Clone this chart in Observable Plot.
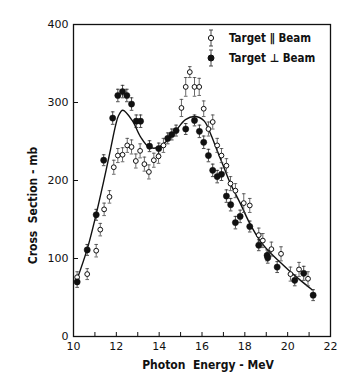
<!DOCTYPE html>
<html><head><meta charset="utf-8">
<script src="https://cdn.jsdelivr.net/npm/d3@7"></script>
<script src="https://cdn.jsdelivr.net/npm/@observablehq/plot@0.6"></script>
<style>
html,body{margin:0;padding:0;background:#fff;}
#wrap{position:relative;width:360px;height:376px;}
#legend{position:absolute;left:204px;top:28px;font-family:"DejaVu Sans Condensed","DejaVu Sans",sans-serif;font-stretch:condensed;font-weight:bold;font-size:11.5px;color:#111;}
#legend .row{display:flex;align-items:center;height:20px;}
#legend svg{display:block;}
#legend span{margin-left:11px;}
#chart svg g[aria-label="text"] text{font-stretch:condensed;}
</style></head><body>
<div id="wrap"><div id="chart"></div><div id="legend"></div></div>
<script>
// Target ∥ Beam (open circles)
const openX = [10.17, 10.64, 11.06, 11.25, 11.43, 11.68, 11.88, 12.07, 12.29, 12.51, 12.71, 12.91, 13.11, 13.31, 13.52, 13.75, 13.97, 14.2, 15.04, 15.24, 15.43, 15.65, 15.87, 16.08, 16.30, 16.50, 16.71, 16.91, 17.14, 17.33, 17.56, 17.95, 18.23, 18.65, 18.84, 19.24, 19.69, 20.13, 20.53, 20.95];
const openY = [76, 80, 110, 137, 163, 179, 217, 232, 233, 245, 243, 225, 238, 221, 211, 226, 231, 245, 293, 320, 339, 320, 320, 292, 266, 275, 245, 232, 219, 196, 187, 171, 168, 130, 123, 112, 106, 80, 86, 74];
const openE = [7, 7, 8, 8, 8, 8, 9, 9, 9, 9, 9, 9, 9, 9, 9, 9, 9, 9, 11, 12, 7, 12, 11, 10, 9, 9, 9, 9, 9, 9, 9, 12, 9, 9, 9, 9, 9, 9, 9, 9];
// Target ⊥ Beam (filled circles)
const filledX = [10.17, 10.64, 11.06, 11.41, 11.83, 12.07, 12.29, 12.49, 12.71, 12.93, 13.13, 13.55, 13.98, 14.40, 14.59, 14.79, 15.24, 15.65, 15.88, 16.08, 16.30, 16.50, 16.71, 16.91, 17.14, 17.34, 17.56, 17.78, 18.23, 18.65, 19.04, 19.07, 19.51, 20.33, 20.75, 21.19];
const filledY = [70, 111, 156, 226, 280, 309, 314, 309, 298, 276, 276, 244, 241, 254, 259, 264, 266, 277, 263, 249, 232, 213, 205, 208, 180, 169, 146, 154, 141, 117, 104, 101, 89, 72, 81, 53];
const filledE = [7, 7, 7, 7, 8, 8, 8, 8, 8, 8, 8, 7, 7, 7, 7, 7, 7, 7, 8, 8, 8, 8, 8, 8, 8, 8, 8, 8, 7, 7, 7, 7, 7, 7, 9, 7];
// fitted curve
const curveX = [10.15, 10.64, 11.06, 11.4, 11.73, 11.96, 12.1, 12.3, 12.74, 13.13, 13.52, 13.9, 14.37, 14.84, 15.23, 15.65, 16.08, 16.4, 16.71, 17.02, 17.33, 17.8, 18.23, 18.73, 19.2, 19.66, 20.13, 20.6, 21.14];
const curveY = [72, 112, 157, 198, 240, 270, 283, 290, 277, 256, 243, 242, 251, 266, 278, 282, 277, 260, 238, 217, 196, 170, 145, 122, 107, 95, 83, 72, 60];
// axes
const xTicks = [10, 11, 12, 13, 14, 15, 16, 17, 18, 19, 20, 21, 22];
const xTickLabels = ["10", "", "12", "", "14", "", "16", "", "18", "", "20", "", "22"];
const yTicks = [0, 100, 200, 300, 400];
const xTitle = "Photon  Energy - MeV";
const yTitle = "Cross  Section - mb";
const seriesNames = ["Target \u2225 Beam", "Target \u22A5 Beam"];

const open = openX.map((x, i) => ({x, y: openY[i], e: openE[i]}));
const filled = filledX.map((x, i) => ({x, y: filledY[i], e: filledE[i]}));
const curve = curveX.map((x, i) => ({x, y: curveY[i]}));

const cap = {draw(ctx, size) { const h = Math.sqrt(size / Math.PI); ctx.moveTo(-h, 0); ctx.lineTo(h, 0); }};
const titleFont = "'DejaVu Sans Condensed','DejaVu Sans',sans-serif";

function errMarks(data, col) {
  return [
    Plot.ruleX(data, {x: "x", y1: d => d.y - d.e, y2: d => d.y + d.e, stroke: col, strokeWidth: 0.8}),
    Plot.dot(data, {x: "x", y: d => d.y + d.e, symbol: cap, r: 1.8, stroke: col, strokeWidth: 0.8}),
    Plot.dot(data, {x: "x", y: d => d.y - d.e, symbol: cap, r: 1.8, stroke: col, strokeWidth: 0.8})
  ];
}

const chart = Plot.plot({
  width: 360, height: 376,
  marginLeft: 73, marginRight: 30, marginTop: 24, marginBottom: 40,
  x: {domain: [10, 22]},
  y: {domain: [0, 400]},
  style: {fontFamily: "'DejaVu Sans', sans-serif", fontSize: "11px", color: "#111", background: "#fff"},
  marks: [
    Plot.axisX({ticks: xTicks, tickSize: -4, tickPadding: 10, tickFormat: d => xTickLabels[xTicks.indexOf(d)], label: null, strokeWidth: 1}),
    Plot.axisY({ticks: yTicks, tickSize: -5, tickPadding: 10, label: null, strokeWidth: 1}),
    Plot.frame({stroke: "#111", strokeWidth: 1.3}),
    Plot.line(curve, {x: "x", y: "y", curve: "catmull-rom", stroke: "#111", strokeWidth: 1.4}),
    ...errMarks(open, "#444"),
    ...errMarks(filled, "#222"),
    Plot.dot(open, {x: "x", y: "y", r: 2.4, fill: "white", stroke: "#111", strokeWidth: 1}),
    Plot.dot(filled, {x: "x", y: "y", r: 3.1, fill: "#111", stroke: "#111", strokeWidth: 0.5}),
    Plot.text([xTitle], {frameAnchor: "bottom", dy: 32, dx: 6, text: d => d, textAnchor: "middle", fontFamily: titleFont, fontWeight: "bold", fontSize: 12, fill: "#111"}),
    Plot.text([yTitle], {frameAnchor: "left", dx: -40, dy: 25, rotate: -90, text: d => d, textAnchor: "middle", fontFamily: titleFont, fontWeight: "bold", fontSize: 12, fill: "#111"})
  ]
});
document.getElementById("chart").appendChild(chart);

// legend
const leg = document.getElementById("legend");
seriesNames.forEach((name, i) => {
  const row = document.createElement("div");
  row.className = "row";
  const fill = i === 0 ? "white" : "#111";
  const r = i === 0 ? 2.6 : 3;
  row.innerHTML = `<svg width="14" height="20"><line x1="7" x2="7" y1="2" y2="18" stroke="#333" stroke-width="0.9"/><line x1="5" x2="9" y1="2" y2="2" stroke="#333" stroke-width="0.9"/><line x1="5" x2="9" y1="18" y2="18" stroke="#333" stroke-width="0.9"/><circle cx="7" cy="10" r="${r}" fill="${fill}" stroke="#111" stroke-width="1"/></svg><span>${name}</span>`;
  leg.appendChild(row);
});
</script>
</body></html>
